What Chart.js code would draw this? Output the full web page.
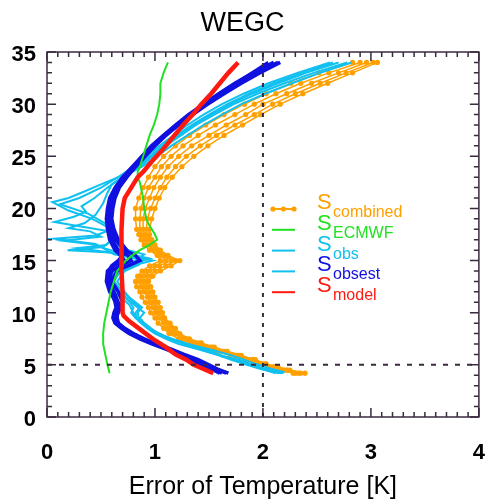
<!DOCTYPE html>
<html lang="en">
<head>
<meta charset="UTF-8">
<title>WEGC</title>
<style>
  html, body { margin: 0; padding: 0; background: #fff; }
  #wrap { width: 485px; height: 503px; position: relative; }
</style>
<script src="https://cdn.jsdelivr.net/npm/chart.js"></script>
</head>
<body>
<div id="wrap"><canvas id="chart"></canvas></div>
<script>
// altitude grids (km)
const altCombined = [4.2, 4.5, 4.8, 5.1, 5.5, 5.9, 6.3, 6.7, 7.1, 7.5, 8, 8.5, 9, 9.5, 10, 10.5, 11, 11.5, 12, 12.5, 13, 13.5, 14, 14.5, 15, 15.5, 16, 16.5, 17, 17.5, 18, 19, 20, 21, 22, 23, 24, 25, 26, 27, 28, 29, 30, 31, 32, 33, 34];
const altObsest = [4.2, 4.6, 5, 5.5, 6, 6.5, 7, 7.5, 8, 8.5, 9, 9.5, 10, 10.5, 11, 12, 13, 14, 14.5, 15, 15.5, 16, 17, 18, 19, 20, 21, 22, 23, 24, 25, 26, 27, 28, 29, 30, 31, 32, 33, 34];
const altEcmwf = [4.2, 5, 6, 7, 8, 9, 10, 11, 12, 13, 14, 14.5, 15, 15.5, 16, 16.5, 17, 17.5, 18, 18.5, 19, 20, 21, 22, 22.5, 23, 23.5, 24, 25, 26, 27, 28, 29, 30, 31, 32, 33, 34];
const altModel = [4.2, 4.6, 5, 5.5, 6, 6.7, 7.5, 8.5, 9.2, 9.7, 10, 12, 14, 16, 18, 20, 21, 22, 23, 23.5, 24.5, 25.5, 27, 28, 29, 30, 31, 32, 33, 34];

// S_combined (orange, several profiles)
const combined1 = [2.39, 2.25, 2.14, 2.02, 1.90, 1.76, 1.63, 1.51, 1.38, 1.27, 1.19, 1.14, 1.10, 1.06, 1.02, 1.00, 0.97, 0.95, 0.93, 0.90, 0.88, 0.90, 0.95, 1.04, 1.15, 1.08, 1.01, 0.96, 0.93, 0.90, 0.89, 0.89, 0.91, 0.95, 0.99, 1.05, 1.12, 1.22, 1.34, 1.50, 1.66, 1.84, 2.00, 2.22, 2.45, 2.70, 2.96];
const combined2 = [2.30, 2.20, 2.10, 2.00, 1.92, 1.80, 1.67, 1.55, 1.43, 1.32, 1.23, 1.19, 1.14, 1.09, 1.07, 1.05, 1.03, 1.00, 0.98, 0.96, 0.94, 0.98, 1.05, 1.15, 1.23, 1.12, 1.05, 1.00, 0.97, 0.95, 0.95, 0.97, 1.00, 1.04, 1.09, 1.16, 1.25, 1.36, 1.49, 1.64, 1.81, 1.98, 2.16, 2.37, 2.60, 2.83, 3.06];
const combined3 = [2.28, 2.18, 2.05, 1.95, 1.83, 1.70, 1.57, 1.45, 1.33, 1.22, 1.13, 1.08, 1.03, 1.00, 0.96, 0.94, 0.91, 0.88, 0.86, 0.83, 0.82, 0.84, 0.88, 0.95, 1.05, 1.02, 0.95, 0.90, 0.87, 0.85, 0.83, 0.82, 0.82, 0.85, 0.89, 0.94, 1.00, 1.08, 1.19, 1.32, 1.47, 1.64, 1.83, 2.03, 2.26, 2.52, 2.83];
const combined4 = [2.35, 2.23, 2.10, 1.97, 1.86, 1.74, 1.60, 1.48, 1.36, 1.25, 1.17, 1.12, 1.08, 1.04, 1.00, 0.98, 0.95, 0.93, 0.90, 0.87, 0.85, 0.87, 0.92, 1.00, 1.10, 1.05, 0.99, 0.93, 0.90, 0.87, 0.86, 0.86, 0.87, 0.90, 0.94, 1.00, 1.06, 1.15, 1.26, 1.40, 1.56, 1.74, 1.92, 2.12, 2.35, 2.61, 2.90];
const combined5 = [2.33, 2.22, 2.12, 2.03, 1.93, 1.78, 1.65, 1.53, 1.41, 1.30, 1.21, 1.17, 1.12, 1.08, 1.05, 1.02, 1.00, 0.98, 0.95, 0.93, 0.91, 0.94, 1.00, 1.10, 1.19, 1.10, 1.03, 0.98, 0.95, 0.92, 0.92, 0.93, 0.96, 1.00, 1.05, 1.11, 1.19, 1.29, 1.42, 1.57, 1.74, 1.92, 2.09, 2.30, 2.53, 2.77, 3.02];

// S_ECMWF (green)
const ecmwf = [0.58, 0.56, 0.54, 0.52, 0.52, 0.53, 0.55, 0.57, 0.59, 0.62, 0.65, 0.69, 0.73, 0.79, 0.86, 0.95, 1.02, 1.00, 0.97, 0.94, 0.92, 0.90, 0.89, 0.87, 0.86, 0.84, 0.84, 0.86, 0.89, 0.92, 0.95, 0.99, 1.02, 1.04, 1.05, 1.05, 1.08, 1.12];

// S_obs (light blue, several profiles with their own altitudes)
const obsAlt1 = [4.2, 4.6, 5.0, 5.5, 6.0, 6.5, 7.0, 7.5, 8.0, 8.5, 9.0, 9.5, 10, 10.5, 11, 12, 13, 14, 14.6, 15.1, 15.6, 16.6, 17.1, 17.4, 18.0, 19.0, 19.8, 20.6, 21.0, 21.6, 22.3, 23, 24, 25, 26, 27, 28, 29, 30, 31, 32, 33, 34];
const obs1 = [2.19, 1.98, 1.85, 1.70, 1.57, 1.40, 1.22, 1.10, 1.00, 0.93, 0.87, 0.83, 0.82, 0.86, 0.80, 0.72, 0.65, 0.72, 0.85, 0.86, 0.62, 0.45, 0.07, 0.45, 0.60, 0.42, 0.20, 0.05, 0.20, 0.34, 0.50, 0.66, 0.80, 0.92, 1.04, 1.17, 1.30, 1.45, 1.62, 1.82, 2.05, 2.32, 2.62];
const obsAlt2 = [4.2, 4.6, 5.0, 5.5, 5.8, 6.2, 6.7, 7.2, 7.7, 8.2, 9, 9.5, 10, 10.5, 11, 12, 13, 13.8, 14.5, 15.2, 15.7, 16.0, 16.3, 17.0, 17.8, 18.3, 18.7, 19.2, 19.7, 20.2, 21, 22, 23, 24, 25, 26, 27, 28, 29, 30, 31, 32, 33, 34];
const obs2 = [2.15, 2.02, 1.90, 1.78, 1.62, 1.55, 1.40, 1.25, 1.10, 1.00, 0.90, 0.86, 0.90, 0.84, 0.78, 0.68, 0.60, 0.62, 0.75, 0.95, 0.72, 0.19, 0.52, 0.60, 0.58, 0.30, 0.07, 0.25, 0.36, 0.32, 0.44, 0.56, 0.70, 0.86, 0.98, 1.10, 1.24, 1.38, 1.55, 1.73, 1.95, 2.20, 2.47, 2.78];
const obsAlt3 = [4.3, 4.7, 5.1, 5.6, 6.0, 6.4, 7, 7.5, 8, 8.5, 9, 9.5, 10, 10.5, 11, 12, 12.5, 13.3, 14, 14.7, 15.2, 15.6, 16.2, 16.5, 17.2, 18.2, 19.5, 20.4, 21.0, 22, 23, 24, 25, 26, 27, 28, 29, 30, 31, 32, 33, 34];
const obs3 = [2.20, 2.05, 1.93, 1.80, 1.68, 1.54, 1.30, 1.15, 1.03, 0.95, 0.88, 0.82, 0.78, 0.80, 0.77, 0.66, 0.60, 0.58, 0.64, 0.80, 0.90, 0.70, 0.28, 0.55, 0.62, 0.60, 0.38, 0.12, 0.30, 0.50, 0.66, 0.84, 0.96, 1.08, 1.22, 1.36, 1.52, 1.70, 1.90, 2.14, 2.40, 2.70];
const obsAlt4 = [4.2, 4.8, 5.3, 5.9, 6.4, 7, 7.5, 8, 8.5, 9, 9.5, 10, 10.5, 11, 12, 13, 14, 14.6, 15, 15.5, 16.6, 16.9, 17.3, 17.8, 18.1, 18.6, 19.4, 20.5, 21.5, 22.3, 23, 24, 25, 26, 27, 28, 29, 30, 31, 32, 33, 34];
const obs4 = [2.17, 1.95, 1.82, 1.60, 1.45, 1.28, 1.14, 1.03, 0.96, 0.90, 0.85, 0.84, 0.88, 0.82, 0.70, 0.62, 0.68, 0.82, 0.98, 0.75, 0.40, 0.15, 0.50, 0.40, 0.20, 0.35, 0.45, 0.52, 0.56, 0.60, 0.70, 0.88, 1.02, 1.15, 1.30, 1.45, 1.62, 1.80, 2.02, 2.27, 2.53, 2.82];
const obsAlt5 = [4.2, 4.7, 5.2, 5.8, 6.3, 6.8, 7.4, 8, 8.6, 9.2, 10, 10.8, 11.5, 12.3, 13, 13.8, 14.5, 15, 15.6, 16, 16.6, 17.5, 18.5, 19.5, 20.5, 21.5, 22.5, 23.3, 24, 25, 26, 27, 28, 29, 30, 31, 32, 33, 34];
const obs5 = [2.12, 1.96, 1.84, 1.65, 1.48, 1.32, 1.17, 1.04, 0.93, 0.85, 0.80, 0.76, 0.68, 0.58, 0.55, 0.60, 0.70, 0.82, 0.90, 0.75, 0.62, 0.62, 0.60, 0.58, 0.60, 0.62, 0.66, 0.72, 0.82, 0.95, 1.07, 1.20, 1.34, 1.50, 1.67, 1.87, 2.10, 2.36, 2.65];

// S_obsest (blue, several profiles)
const obsest1 = [1.68, 1.58, 1.50, 1.40, 1.27, 1.15, 1.02, 0.90, 0.80, 0.72, 0.66, 0.64, 0.66, 0.68, 0.66, 0.62, 0.57, 0.60, 0.68, 0.78, 0.75, 0.66, 0.60, 0.58, 0.57, 0.58, 0.60, 0.65, 0.72, 0.80, 0.88, 0.97, 1.08, 1.20, 1.33, 1.47, 1.62, 1.78, 1.95, 2.14];
const obsest2 = [1.60, 1.52, 1.43, 1.34, 1.22, 1.10, 0.97, 0.86, 0.76, 0.69, 0.63, 0.61, 0.62, 0.64, 0.63, 0.60, 0.59, 0.65, 0.75, 0.86, 0.82, 0.72, 0.63, 0.60, 0.59, 0.60, 0.62, 0.66, 0.73, 0.82, 0.90, 0.99, 1.10, 1.22, 1.35, 1.49, 1.64, 1.80, 1.97, 2.16];
const obsest3 = [1.62, 1.54, 1.46, 1.36, 1.24, 1.12, 1.00, 0.88, 0.77, 0.70, 0.65, 0.63, 0.63, 0.67, 0.70, 0.66, 0.60, 0.57, 0.60, 0.66, 0.70, 0.74, 0.66, 0.62, 0.60, 0.61, 0.63, 0.67, 0.74, 0.82, 0.91, 1.00, 1.10, 1.21, 1.33, 1.46, 1.60, 1.75, 1.90, 2.05];
const obsest4 = [1.66, 1.56, 1.47, 1.38, 1.25, 1.13, 1.00, 0.89, 0.79, 0.71, 0.66, 0.65, 0.65, 0.66, 0.64, 0.58, 0.55, 0.56, 0.62, 0.72, 0.68, 0.63, 0.58, 0.56, 0.55, 0.56, 0.58, 0.63, 0.70, 0.79, 0.88, 0.97, 1.08, 1.19, 1.31, 1.45, 1.59, 1.74, 1.91, 2.10];

// S_model (red)
const model = [1.54, 1.45, 1.36, 1.29, 1.19, 1.10, 0.98, 0.85, 0.76, 0.71, 0.70, 0.70, 0.69, 0.69, 0.69, 0.70, 0.72, 0.78, 0.84, 0.89, 0.97, 1.06, 1.18, 1.26, 1.35, 1.43, 1.52, 1.60, 1.68, 1.77];

// reference lines
const refX = 2;
const refAlt = 5;

const xTicks = [0, 1, 2, 3, 4];
const yTicks = [0, 5, 10, 15, 20, 25, 30, 35];

const legendNames = ['combined', 'ECMWF', 'obs', 'obsest', 'model'];

const ORANGE = '#ffa000';
const GREEN = '#22e022';
const LIGHTBLUE = '#10c0f0';
const BLUE = '#1010e0';
const RED = '#ff1a10';
const AXIS = '#3a2a40';
const FONT = "'Liberation Sans', Arial, Helvetica, sans-serif";

function toPoints(alt, vals) {
    return vals.map((v, i) => ({ x: v, y: alt[i] }));
}

function lineSet(alt, vals, color, width) {
    return {
        data: toPoints(alt, vals),
        showLine: true,
        borderColor: color,
        backgroundColor: color,
        borderWidth: width,
        pointRadius: 0,
        tension: 0
    };
}

function combinedSet(vals) {
    const s = lineSet(altCombined, vals, ORANGE, 1.5);
    s.pointRadius = 2.6;
    s.pointBorderWidth = 0;
    return s;
}

// first dataset is drawn on top
const datasets = [
    { data: [{ x: refX, y: 0 }, { x: refX, y: 35 }], showLine: true, borderColor: AXIS, borderWidth: 2, borderDash: [4, 6], pointRadius: 0 },
    { data: [{ x: 0, y: refAlt }, { x: 4, y: refAlt }], showLine: true, borderColor: AXIS, borderWidth: 2, borderDash: [5, 7], pointRadius: 0 },
    lineSet(altModel, model, RED, 4.5),
    lineSet(altEcmwf, ecmwf, GREEN, 2),
    lineSet(altObsest, obsest1, BLUE, 3.5),
    lineSet(altObsest, obsest2, BLUE, 3.5),
    lineSet(altObsest, obsest3, BLUE, 3.5),
    lineSet(altObsest, obsest4, BLUE, 3.5),
    lineSet(obsAlt1, obs1, LIGHTBLUE, 2),
    lineSet(obsAlt2, obs2, LIGHTBLUE, 2),
    lineSet(obsAlt3, obs3, LIGHTBLUE, 2),
    lineSet(obsAlt4, obs4, LIGHTBLUE, 2),
    lineSet(obsAlt5, obs5, LIGHTBLUE, 2),
    combinedSet(combined1),
    combinedSet(combined2),
    combinedSet(combined3),
    combinedSet(combined4),
    combinedSet(combined5)
];

// frame with inward ticks on all four sides
const frameTicks = {
    id: 'frameTicks',
    afterDatasetsDraw(chart) {
        const { ctx, chartArea: a, scales: { x, y } } = chart;
        ctx.save();
        ctx.strokeStyle = AXIS;
        ctx.lineWidth = 1.5;
        ctx.strokeRect(a.left, a.top, a.right - a.left, a.bottom - a.top);
        ctx.beginPath();
        for (let i = 0; i <= 40; i++) {
            const px = x.getPixelForValue(i / 10);
            const len = i % 10 === 0 ? 9 : 5;
            ctx.moveTo(px, a.bottom); ctx.lineTo(px, a.bottom - len);
            ctx.moveTo(px, a.top); ctx.lineTo(px, a.top + len);
        }
        for (let i = 0; i <= 35; i++) {
            const py = y.getPixelForValue(i);
            const len = i % 5 === 0 ? 9 : 5;
            ctx.moveTo(a.left, py); ctx.lineTo(a.left + len, py);
            ctx.moveTo(a.right, py); ctx.lineTo(a.right - len, py);
        }
        ctx.stroke();
        ctx.restore();
    }
};

// legend with subscripted labels
const subLegend = {
    id: 'subLegend',
    afterDraw(chart) {
        const ctx = chart.ctx;
        const colors = [ORANGE, GREEN, LIGHTBLUE, BLUE, RED];
        const lineColors = [ORANGE, GREEN, LIGHTBLUE, LIGHTBLUE, RED];
        ctx.save();
        legendNames.forEach((name, i) => {
            const yy = 209 + i * 20.8;
            ctx.strokeStyle = lineColors[i];
            ctx.lineWidth = 2;
            ctx.beginPath();
            ctx.moveTo(272, yy);
            ctx.lineTo(295, yy);
            ctx.stroke();
            if (i === 0) {
                ctx.fillStyle = ORANGE;
                [273, 283.5, 294].forEach(px => {
                    ctx.beginPath();
                    ctx.arc(px, yy, 2.6, 0, Math.PI * 2);
                    ctx.fill();
                });
            }
            ctx.fillStyle = colors[i];
            ctx.textBaseline = 'alphabetic';
            ctx.textAlign = 'left';
            ctx.font = '22px ' + FONT;
            ctx.fillText('S', 317, yy);
            ctx.font = '16px ' + FONT;
            ctx.fillText(name, 333, yy + 8);
        });
        ctx.restore();
    }
};

// invisible tick marks give the label gap without adding side padding
const hiddenTicks = { display: true, drawOnChartArea: false, drawTicks: true, color: 'rgba(0,0,0,0)' };

new Chart(document.getElementById('chart'), {
    type: 'scatter',
    data: { datasets },
    options: {
        responsive: true,
        maintainAspectRatio: false,
        animation: false,
        layout: { padding: 0 },
        plugins: {
            legend: { display: false },
            tooltip: { enabled: false },
            title: {
                display: true,
                text: 'WEGC',
                color: '#000',
                font: { family: FONT, size: 27, weight: 'normal' },
                padding: { top: 7, bottom: 12.6 }
            }
        },
        scales: {
            x: {
                type: 'linear',
                min: 0,
                max: 4,
                afterBuildTicks: s => { s.ticks = xTicks.map(v => ({ value: v })); },
                afterFit: s => { s.height = 86; },
                grid: Object.assign({ tickLength: 23 }, hiddenTicks),
                border: { display: false },
                ticks: {
                    color: '#000',
                    padding: 0,
                    maxRotation: 0,
                    font: { family: FONT, size: 22, weight: 'bold' }
                },
                title: {
                    display: true,
                    text: 'Error of Temperature [K]',
                    color: '#000',
                    font: { family: FONT, size: 25, weight: 'normal' },
                    padding: { top: 0, bottom: 1 }
                }
            },
            y: {
                type: 'linear',
                min: 0,
                max: 35,
                afterBuildTicks: s => { s.ticks = yTicks.map(v => ({ value: v })); },
                afterFit: s => { s.width = 47; },
                grid: Object.assign({ tickLength: 11 }, hiddenTicks),
                border: { display: false },
                ticks: {
                    color: '#000',
                    padding: 0,
                    labelOffset: 3,
                    font: { family: FONT, size: 22, weight: 'bold' }
                }
            }
        }
    },
    plugins: [frameTicks, subLegend]
});
</script>
</body>
</html>
